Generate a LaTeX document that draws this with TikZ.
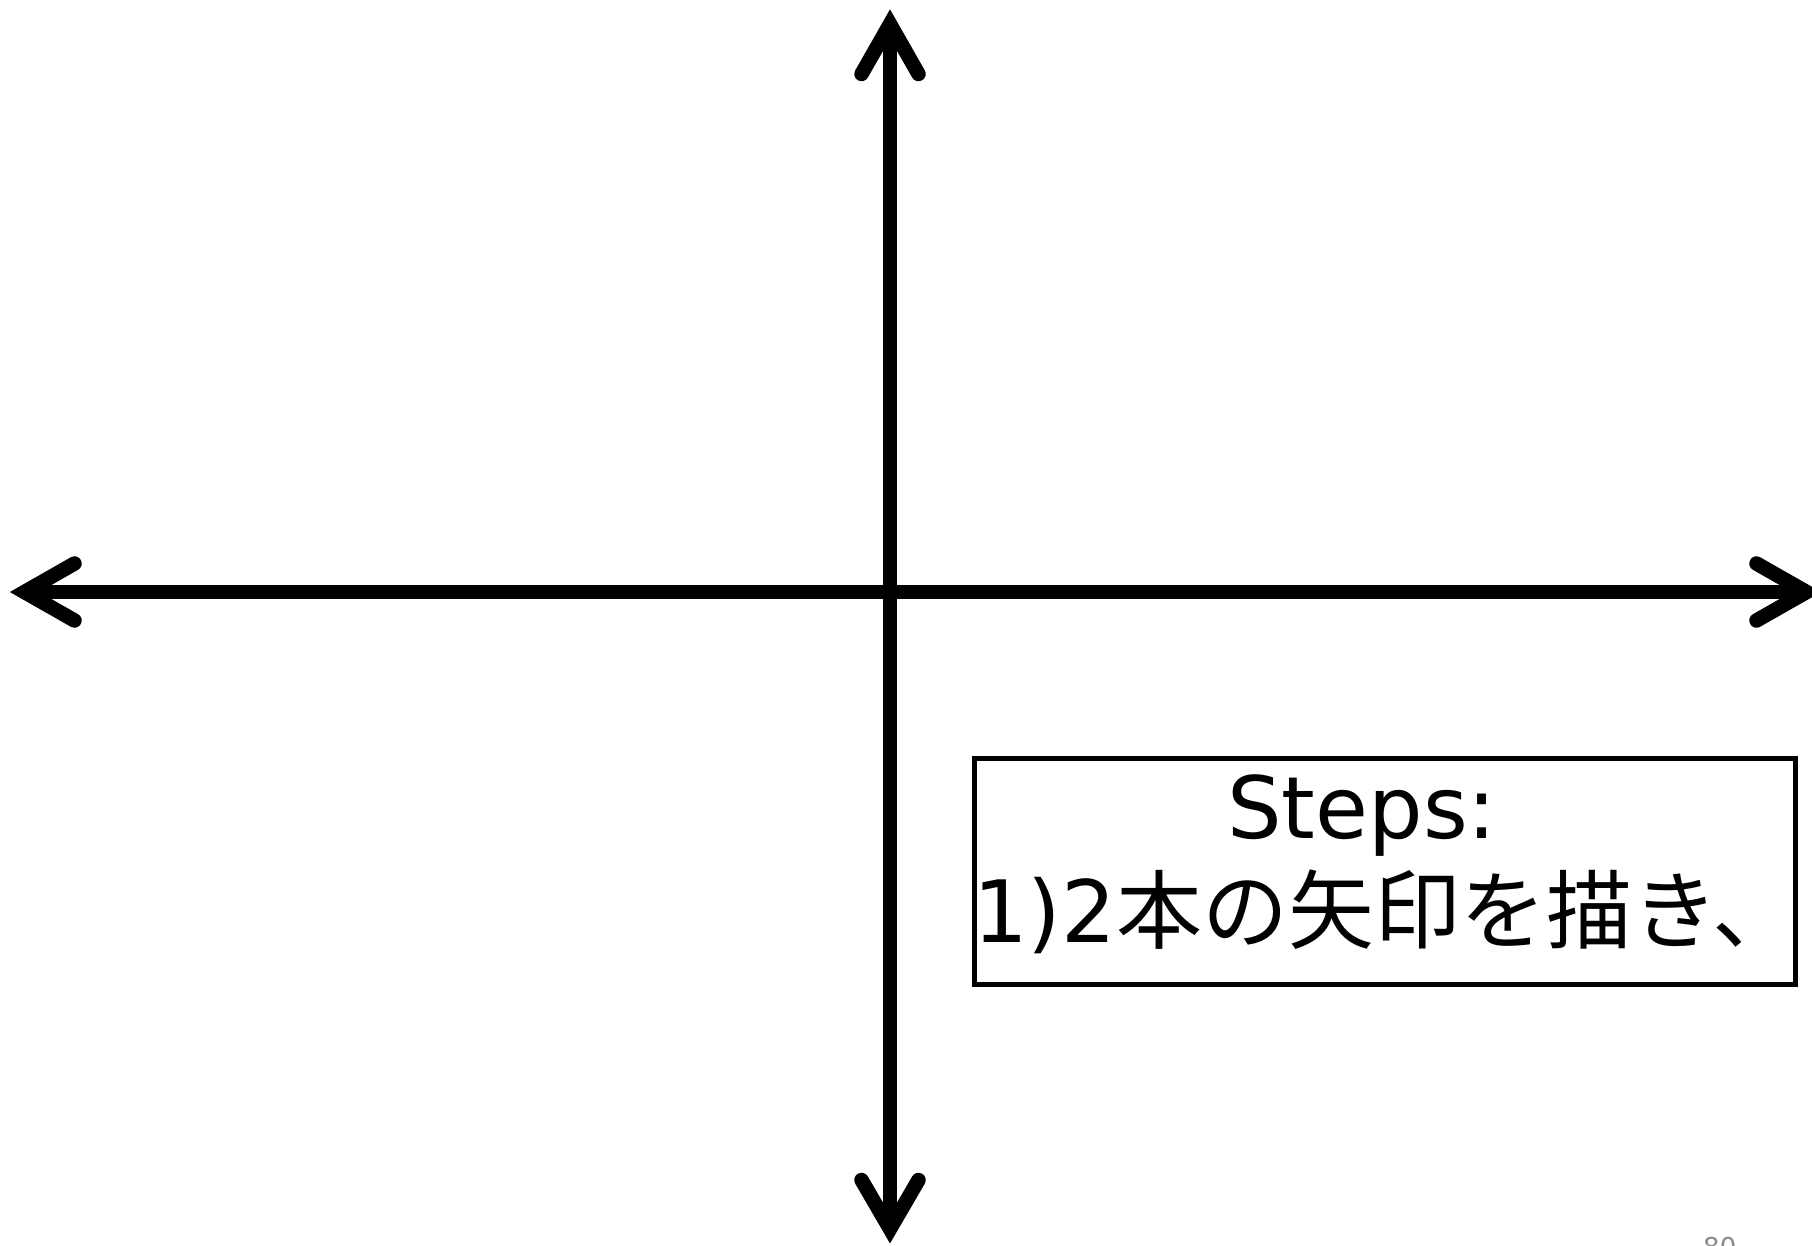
\documentclass[tikz,border=0pt]{standalone}
\usepackage{fontspec}
\setmainfont{DejaVu Sans}
\newfontfamily\jpfont{Noto Sans CJK JP}
\definecolor{pagegray}{RGB}{137,137,137}
\begin{document}
\begin{tikzpicture}[x=1pt,y=-1pt,
  axis/.style={line width=14.5pt, line cap=butt},
  head/.style={line width=14.5pt, line cap=round, line join=miter, miter limit=10},
  stepsbox/.style={draw, line width=5pt, minimum width=821pt, minimum height=226pt, inner sep=0pt},
  bigtext/.style={inner sep=0pt, font=\fontsize{86}{104}\selectfont},
  pagenum/.style={inner sep=0pt, text=pagegray, font=\fontsize{26}{30}\selectfont}]
\useasboundingbox (0,0) rectangle (1812,1245);
\clip (0,0) rectangle (1812,1245);
% vertical axis
\coordinate (vtop) at (890,24);
\coordinate (vbot) at (890,1229);
\coordinate (vtl) at (861.5,74);
\coordinate (vtr) at (918.5,74);
\coordinate (vbl) at (861.5,1180);
\coordinate (vbr) at (918.5,1180);
% horizontal axis
\coordinate (hleft) at (24.5,592);
\coordinate (hright) at (1806.5,592);
\coordinate (hlt) at (74.5,563.5);
\coordinate (hlb) at (74.5,620.5);
\coordinate (hrt) at (1756.5,563.5);
\coordinate (hrb) at (1756.5,620.5);
\draw[axis] (vtop) -- (vbot);
\draw[axis] (hleft) -- (hright);
\draw[head] (vtl) -- (vtop) -- (vtr);
\draw[head] (vbl) -- (vbot) -- (vbr);
\draw[head] (hlt) -- (hleft) -- (hlb);
\draw[head] (hrt) -- (hright) -- (hrb);
% steps box
\node[stepsbox] (box) at (1384.5,871.5) {};
\node[bigtext, anchor=base west] (steps) at (1227,838) {Steps:};
\node[bigtext, anchor=base west] (step1) at (973,942) {1)2{\jpfont 本の矢印を描き、}};
% page number
\node[pagenum, anchor=base west] (pnum) at (1703,1256) {80};
\end{tikzpicture}
\end{document}
